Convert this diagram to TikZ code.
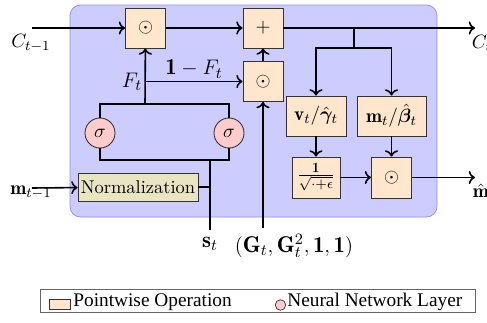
\documentclass[11pt,tikz,border=0pt]{standalone}
\usepackage{amsmath,bm}
\usepackage{fontspec}
\newfontfamily\legendfont{Liberation Serif}
\definecolor{cellBlue}{HTML}{CCCCFF}
\definecolor{cellEdge}{HTML}{8C8CFF}
\definecolor{opFill}{HTML}{FFE6CC}
\definecolor{nnFill}{HTML}{FFCCCC}
\definecolor{normFill}{HTML}{E9E5C3}
\usetikzlibrary{positioning,arrows.meta}

\tikzset{
  opbox/.style={draw=black!80, line width=0.5pt, fill=opFill, minimum width=0.8cm, minimum height=0.8cm, inner sep=1pt},
  nnode/.style={circle, draw=black!80, line width=0.5pt, fill=nnFill, minimum size=0.6cm, inner sep=0pt},
  normbox/.style={draw=black!80, line width=0.5pt, fill=normFill, minimum width=2.4cm, minimum height=0.56cm, inner sep=1pt, font=\fontsize{10.5}{12}\selectfont},
  flow/.style={line width=0.9pt, ->},
  wire/.style={line width=0.9pt},
  biglabel/.style={font=\fontsize{13}{15}\selectfont},
  legendtext/.style={anchor=west, inner sep=0pt, font=\legendfont\fontsize{11}{13}\selectfont},
}

\begin{document}
\begin{tikzpicture}[x=0.02cm, y=-0.02cm]
  \useasboundingbox (0,0) rectangle (487,322);
  % cell background
  \draw[cellEdge, fill=cellBlue, rounded corners=6pt] (70,5) rectangle (437,217);

  % pointwise operations
  \node[opbox] (mulC) at (145.5,28) {$\odot$};
  \node[opbox] (add) at (263,28) {$+$};
  \node[opbox] (mulG) at (263,81.5) {$\odot$};
  \node[opbox, minimum width=1.2cm] (vgam) at (316,116) {$\mathbf{v}_t/\hat{\bm{\gamma}}_t$};
  \node[opbox, minimum width=1.38cm] (mbet) at (391.5,116) {$\mathbf{m}_t/\hat{\bm{\beta}}_t$};
  \node[opbox, minimum width=0.96cm, minimum height=0.82cm] (rsqrt) at (316,177.5) {$\frac{\mathbf{1}}{\sqrt{\cdot+\epsilon}}$};
  \node[opbox, minimum height=0.82cm] (mulM) at (391.5,177.5) {$\odot$};

  % network layers
  \node[nnode] (sigL) at (100,133) {$\sigma$};
  \node[nnode] (sigR) at (229,133) {$\sigma$};
  \node[normbox] (norm) at (138,187) {Normalization};

  % labels
  \node (lCin) at (31,43) {$C_{t-1}$};
  \node (lCout) at (482,43) {$C_t$};
  \node (lmin) at (31,192) {$\mathbf{m}_{t-1}$};
  \node (lmout) at (484,192) {$\hat{\mathbf{m}}_t$};
  \node[biglabel] (lFt) at (132,82) {$F_t$};
  \node[biglabel] (lOneF) at (194,69) {$\mathbf{1}-F_t$};
  \node[biglabel] (lst) at (210,244) {$\mathbf{s}_t$};
  \node[biglabel] (lGt) at (294,246) {$(\mathbf{G}_t, \mathbf{G}_t^2, \mathbf{1}, \mathbf{1})$};

  \coordinate (Cin) at (32,28);
  \coordinate (Cout) at (475,28);
  \coordinate (min) at (32,188);
  \coordinate (mout) at (475,177.5);
  \coordinate (Cbr) at (354,48);
  \coordinate (topbar) at (145,104);
  \coordinate (Fbr) at (145,81.5);
  \coordinate (botbar) at (210,160);

  % cell state
  \draw[flow] (Cin) -- (mulC);
  \draw[flow] (mulC) -- (add);
  \draw[flow] (add) -- (Cout);
  \draw[flow] (mulG) -- (add);
  \draw[wire] (Cbr |- add) -- (Cbr);
  \draw[flow] (Cbr) -| (vgam);
  \draw[flow] (Cbr) -| (mbet);
  \draw[flow] (vgam) -- (rsqrt);
  \draw[flow] (mbet) -- (mulM);
  \draw[flow] (rsqrt) -- (mulM);
  \draw[flow] (mulM) -- (mout);

  % gates
  \draw[wire] (sigL.north) |- (topbar) -| (sigR.north);
  \draw[flow] (topbar) -- (mulC);
  \draw[flow] (Fbr) -- (mulG);
  \draw[wire] (sigL.south) |- (botbar) -| (sigR.south);
  \draw[wire] (botbar) -- (lst.north);
  \draw[wire] (norm.east) -- (norm.east -| botbar);
  \draw[flow] (min) -- (norm);
  \draw[flow] (lGt.north -| mulG) -- (mulG);

  % legend
  \node[draw=black!60, line width=0.4pt, minimum width=8.7cm, minimum height=0.46cm] (legend) at (257.5,300.5) {};
  \node[draw=black!80, line width=0.4pt, fill=opFill, minimum width=0.42cm, minimum height=0.2cm, inner sep=0pt] (keyOp) at (59.5,304.5) {};
  \node[legendtext] (txtOp) at (73,302) {Pointwise Operation};
  \node[circle, draw=black!80, line width=0.4pt, fill=nnFill, minimum size=0.21cm, inner sep=0pt] (keyNN) at (280.5,305) {};
  \node[legendtext] (txtNN) at (287,302) {Neural Network Layer};
\end{tikzpicture}
\end{document}
